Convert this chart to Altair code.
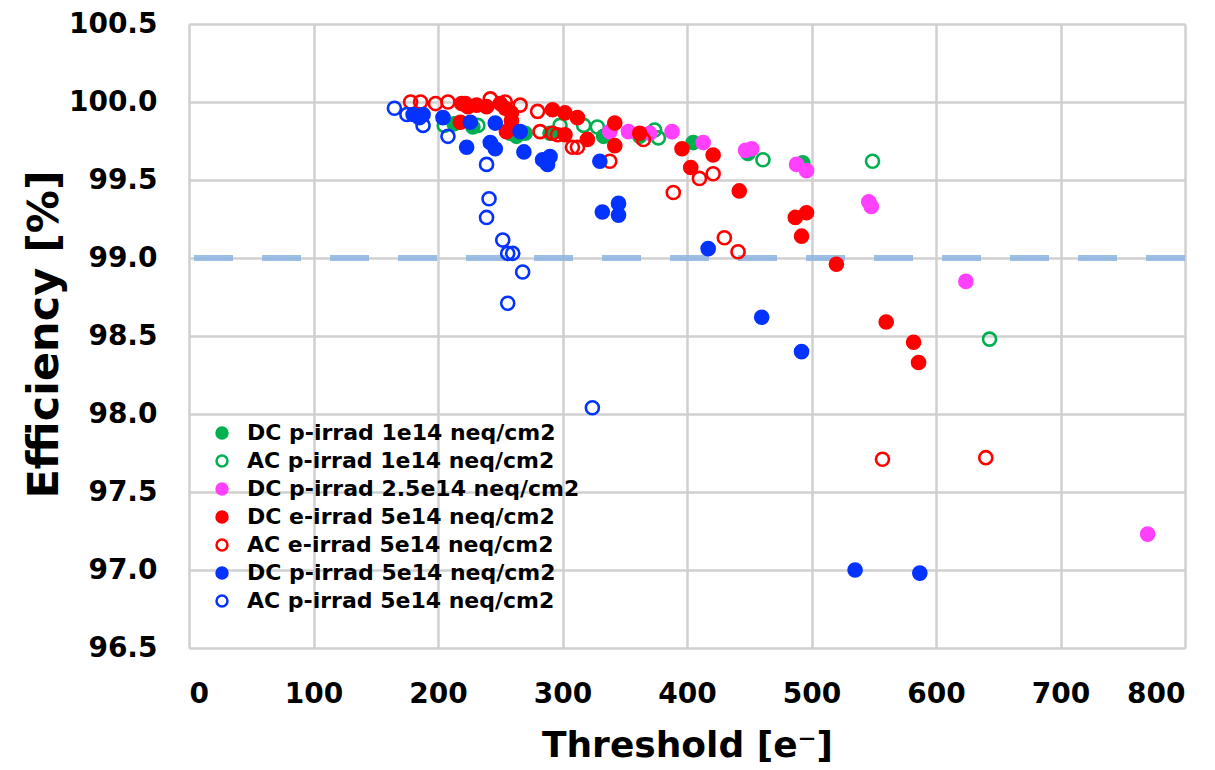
import altair as alt
import pandas as pd

series_names = [
    "DC p-irrad 1e14 neq/cm2",
    "AC p-irrad 1e14 neq/cm2",
    "DC p-irrad 2.5e14 neq/cm2",
    "DC e-irrad 5e14 neq/cm2",
    "AC e-irrad 5e14 neq/cm2",
    "DC p-irrad 5e14 neq/cm2",
    "AC p-irrad 5e14 neq/cm2",
]
fill_colors = ["#00b050", "transparent", "#ff40ff", "#ff0000", "transparent", "#0432ff", "transparent"]
stroke_colors = ["#00b050", "#00b050", "#ff40ff", "#ff0000", "#ff0000", "#0432ff", "#0432ff"]

green_dc_x = [213, 228, 263, 270, 290, 333, 362, 405, 449, 493]
green_dc_y = [99.86, 99.84, 99.78, 99.80, 99.80, 99.78, 99.78, 99.74, 99.67, 99.61]

green_ac_x = [205, 232, 258, 298, 317, 328, 374, 377, 461, 549, 643]
green_ac_y = [99.85, 99.85, 99.80, 99.85, 99.85, 99.84, 99.82, 99.77, 99.63, 99.62, 98.48]

magenta_x = [338, 353, 370, 388, 413, 447, 452, 488, 496, 546, 548, 624, 770]
magenta_y = [99.81, 99.81, 99.80, 99.81, 99.74, 99.69, 99.70, 99.60, 99.56, 99.36, 99.33, 98.85, 97.23]

red_dc_x = [218, 219, 224, 231, 239, 250, 254, 259, 259, 255, 292, 302, 312, 302, 320, 342, 342,
            362, 396, 403, 421, 442, 487, 496, 492, 520, 560, 582, 586]
red_dc_y = [99.87, 99.99, 99.97, 99.98, 99.97, 99.99, 99.96, 99.93, 99.88, 99.81, 99.95, 99.93, 99.90,
            99.79, 99.76, 99.865, 99.72, 99.80, 99.70, 99.58, 99.66, 99.43, 99.26, 99.29, 99.14, 98.96,
            98.59, 98.46, 98.33]

red_ac_x = [178, 186, 198, 208, 222, 242, 254, 266, 280, 282, 292, 296, 308, 312, 338, 365, 389, 410,
            421, 430, 441, 557, 640]
red_ac_y = [100.0, 100.0, 99.99, 100.0, 99.99, 100.02, 100.0, 99.98, 99.94, 99.81, 99.80, 99.79, 99.71,
            99.71, 99.62, 99.76, 99.42, 99.51, 99.54, 99.13, 99.04, 97.71, 97.72]

blue_dc_x = [180, 185, 188, 204, 223, 226, 242, 246, 246, 266, 269, 284, 288, 290, 330, 332, 345, 345,
             417, 460, 492, 535, 587]
blue_dc_y = [99.92, 99.90, 99.92, 99.90, 99.71, 99.87, 99.74, 99.70, 99.865, 99.81, 99.68, 99.63, 99.60,
             99.65, 99.62, 99.295, 99.35, 99.275, 99.06, 98.62, 98.40, 97.00, 96.98]

blue_ac_x = [165, 175, 188, 208, 239, 241, 239, 252, 256, 260, 268, 256, 324]
blue_ac_y = [99.96, 99.92, 99.85, 99.78, 99.60, 99.38, 99.26, 99.115, 99.03, 99.03, 98.91, 98.71, 98.04]

threshold_line = 99.0

series_xy = [
    (green_dc_x, green_dc_y), (green_ac_x, green_ac_y), (magenta_x, magenta_y),
    (red_dc_x, red_dc_y), (red_ac_x, red_ac_y), (blue_dc_x, blue_dc_y), (blue_ac_x, blue_ac_y),
]
rows = []
for name, (xs, ys) in zip(series_names, series_xy):
    for xv, yv in zip(xs, ys):
        rows.append({"series": name, "threshold": xv, "efficiency": yv})
df = pd.DataFrame(rows)

FONT = "DejaVu Sans"

xaxis = alt.Axis(values=list(range(0, 801, 100)), format="d", grid=True, domain=False, ticks=False,
                 labelFont=FONT, labelFontSize=28, labelFontWeight="bold", labelColor="#000",
                 labelPadding=32, title="Threshold [e⁻]", titleFont=FONT, titleFontSize=36,
                 titleFontWeight="bold", titleColor="#000", titleX=498, titleY=97,
                 titleBaseline="middle", titleAlign="center",
                 gridColor="#d0d0d0", gridWidth=2.5)
yaxis = alt.Axis(values=[96.5 + 0.5 * i for i in range(9)], format=".1f", grid=True, domain=False,
                 ticks=False, labelFont=FONT, labelFontSize=28, labelFontWeight="bold",
                 labelColor="#000", labelPadding=32, title="Efficiency [%]", titleFont=FONT,
                 titleFontSize=43, titleFontWeight="bold", titleColor="#000", titleAngle=-90,
                 titleX=-145, titleY=310, titleBaseline="middle", titleAlign="center",
                 gridColor="#d0d0d0", gridWidth=2.5)

legend_cfg = dict(title=None, orient="none", legendX=22, legendY=398,
                  labelFont=FONT, labelFontSize=22, labelFontWeight="bold",
                  labelColor="#000", symbolSize=120, symbolStrokeWidth=2.5,
                  rowPadding=6, labelOffset=14, padding=0, labelLimit=500)

points = alt.Chart(df).mark_point(shape="circle", size=170, strokeWidth=2.6, opacity=1, filled=False).encode(
    x=alt.X("threshold:Q", scale=alt.Scale(domain=[0, 800], nice=False, zero=False), axis=xaxis),
    y=alt.Y("efficiency:Q", scale=alt.Scale(domain=[96.5, 100.5], nice=False, zero=False), axis=yaxis),
    fill=alt.Fill("series:N", scale=alt.Scale(domain=series_names, range=fill_colors),
                  legend=alt.Legend(**legend_cfg)),
    stroke=alt.Stroke("series:N", scale=alt.Scale(domain=series_names, range=stroke_colors),
                      legend=alt.Legend(**legend_cfg)),
)

rule = alt.Chart(pd.DataFrame({"y": [threshold_line]})).mark_rule(
    color="#8db4e2", strokeWidth=6, strokeDash=[39, 29], opacity=0.85
).encode(y="y:Q")

chart = alt.layer(rule, points).properties(
    width=996, height=624,
    autosize=alt.AutoSizeParams(type="none"),
    padding={"left": 189, "top": 24, "right": 30, "bottom": 122},
).configure_view(stroke=None).configure(background="white")

chart.save("out.html", embed_options={"renderer": "svg", "actions": False})
